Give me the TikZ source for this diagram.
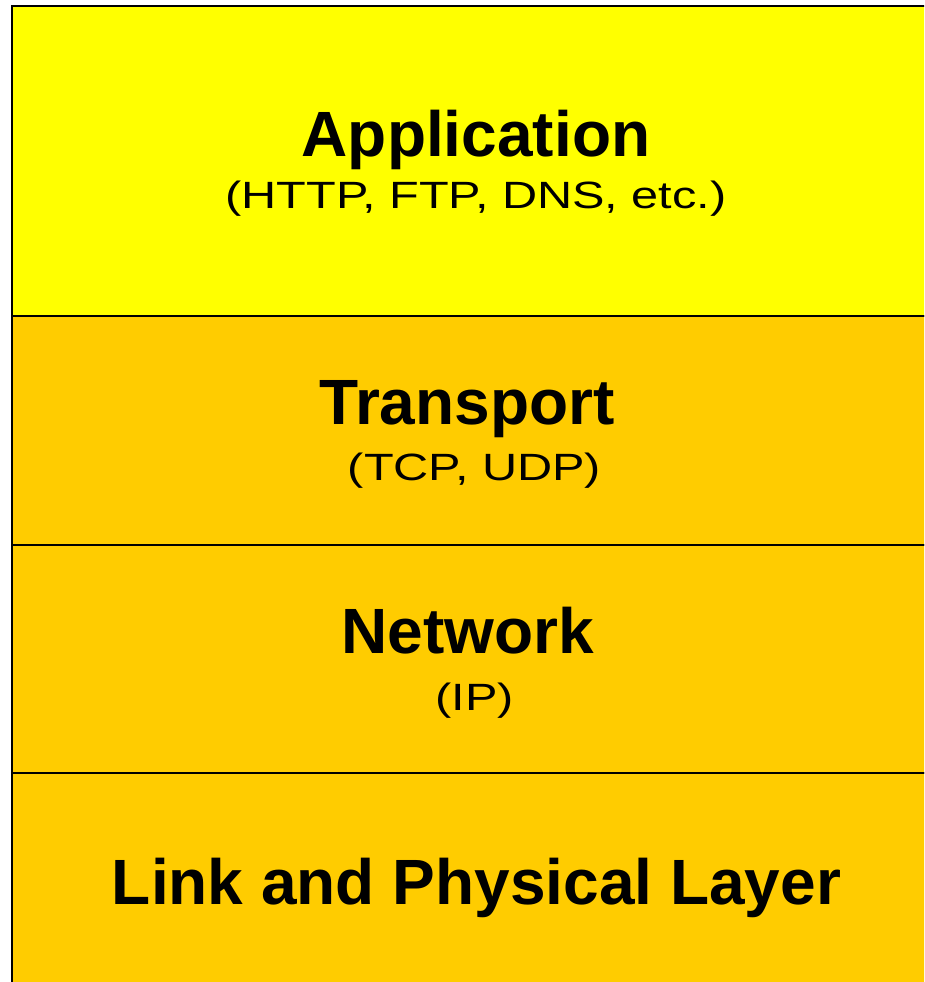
\documentclass[tikz,border=0pt]{standalone}
\usepackage{fontspec}
\setmainfont{Liberation Sans}
\newfontfamily\widesans[FakeStretch=1.28]{Liberation Sans}
\definecolor{appyellow}{HTML}{FFFF00}
\definecolor{layerorange}{HTML}{FFCC00}
\begin{document}
\begin{tikzpicture}[x=1pt,y=-1pt,
  layer/.style={draw=black,line width=2pt},
  title/.style={anchor=base,inner sep=0pt,font=\fontsize{64}{70}\selectfont\bfseries},
  proto/.style={anchor=base,inner sep=0pt,font=\widesans\fontsize{38}{44}\selectfont}]
\useasboundingbox (0,0) rectangle (924,982);
\clip (0,0) rectangle (924,982);
% protocol layers, stacked top to bottom
\filldraw[layer,fill=appyellow]   (12,6)   rectangle (960,316);
\filldraw[layer,fill=layerorange] (12,316) rectangle (960,545);
\filldraw[layer,fill=layerorange] (12,545) rectangle (960,773);
\filldraw[layer,fill=layerorange] (12,773) rectangle (960,1020);
% layer names and example protocols
\node[title] (app)    at (476,156) {Application};
\node[proto] (appp)   at (476,208) {(HTTP, FTP, DNS, etc.)};
\node[title] (trans)  at (467,424) {Transport};
\node[proto] (transp) at (474.5,480) {(TCP, UDP)};
\node[title] (net)    at (468,653) {Network};
\node[proto] (netp)   at (474.5,710) {(IP)};
\node[title] (link)   at (476.5,904) {Link and Physical Layer};
\end{tikzpicture}
\end{document}
